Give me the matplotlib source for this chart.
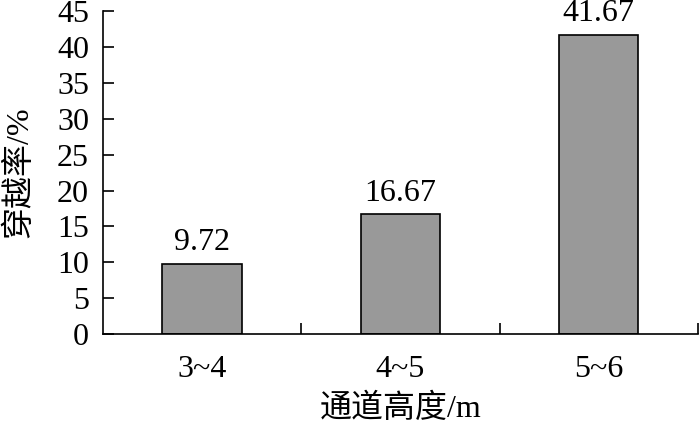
import matplotlib
matplotlib.use("Agg")
import matplotlib.pyplot as plt

plt.rcParams['font.family'] = ['Liberation Serif', 'Noto Sans CJK SC']
plt.rcParams['font.size'] = 23

categories = ['3~4', '4~5', '5~6']
values = [9.72, 16.67, 41.67]
yticks = [0, 5, 10, 15, 20, 25, 30, 35, 40, 45]

fig = plt.figure(figsize=(7, 4.23), dpi=100)
ax = fig.add_axes([0.147, 0.21, 0.85, 0.764])

x = range(len(categories))
bars = ax.bar(x, values, width=0.4, color='#999999', edgecolor='black', linewidth=1.2)
for b, v in zip(bars, values):
    ax.annotate('%.2f' % v, (b.get_x() + b.get_width() / 2, v),
                xytext=(0, 5), textcoords='offset points', ha='center', va='bottom')

ax.set_xlim(-0.5, 2.5)
ax.set_ylim(0, 45)
ax.set_yticks(yticks)
ax.set_xticks(list(x))
ax.set_xticklabels(categories)
ax.set_xticks([0.5, 1.5, 2.5], minor=True)
ax.tick_params(axis='x', which='major', length=0, pad=15)
ax.tick_params(axis='x', which='minor', direction='in', length=8, width=1.2)
ax.tick_params(axis='y', direction='in', length=8, width=1.2, pad=10)

for s in ['top', 'right']:
    ax.spines[s].set_visible(False)
for s in ['left', 'bottom']:
    ax.spines[s].set_linewidth(1.2)

ax.set_xlabel('通道高度/m', labelpad=7)
ax.set_ylabel('穿越率/%', labelpad=16)

fig.savefig('out.png', dpi=100)
